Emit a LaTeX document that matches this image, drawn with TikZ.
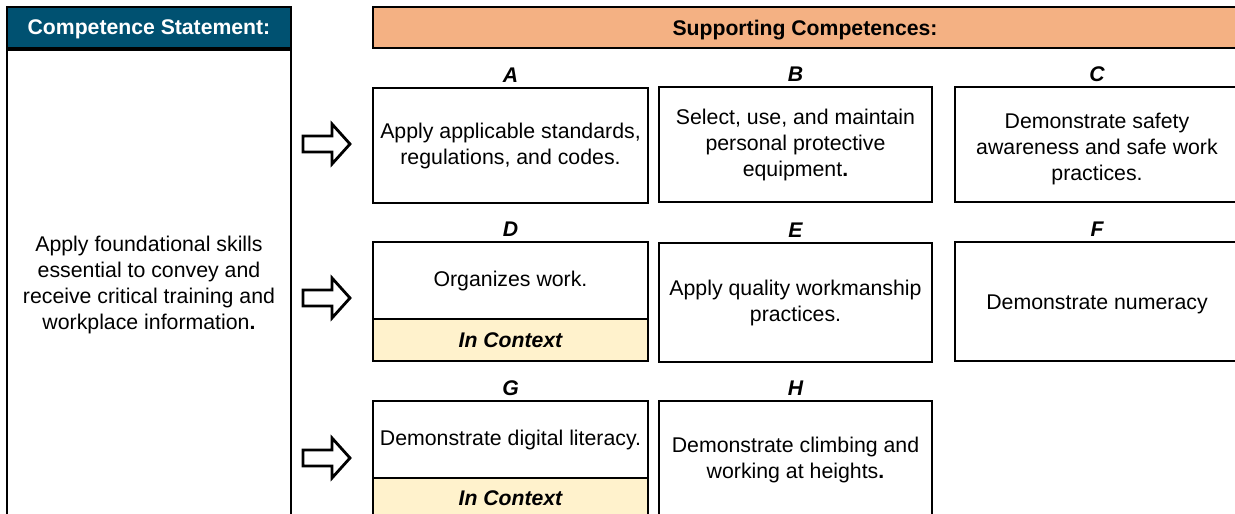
\documentclass[tikz,border=0pt]{standalone}
\usepackage{fontspec}
\setmainfont{Liberation Sans}
\usetikzlibrary{positioning}

\definecolor{statefill}{HTML}{005171}
\definecolor{suppfill}{HTML}{F4B183}
\definecolor{ctxfill}{HTML}{FFF2CC}

\begin{document}
\begin{tikzpicture}[
    x=1pt, y=-1pt,
    font=\fontsize{21.3}{26}\selectfont,
    box/.style={draw, line width=2.3pt, inner sep=0pt, outer sep=0pt, align=center},
    head/.style={box, fill=#1, minimum height=41pt, font=\fontsize{21.2}{24}\selectfont\bfseries},
    comp/.style={box, fill=white},
    ctx/.style={box, fill=ctxfill, font=\fontsize{21.2}{24}\selectfont\bfseries\itshape},
    letter/.style={inner sep=0pt, font=\fontsize{21.2}{24}\selectfont\bfseries\itshape},
    blockarr/.style={draw, line width=2.8pt, fill=white, line join=miter}
]

\useasboundingbox (0,0) rectangle (1235,514);
\fill[white] (0,0) rectangle (1235,514);
\clip (0,0) rectangle (1235,514);

% Competence statement
\node[head=statefill, text=white, minimum width=284pt, text depth=0pt] (stmthead) at (149,27.5) {Competence Statement:};
\node[comp, minimum width=284pt, minimum height=470pt] (stmt) at (149,285)
    {Apply foundational skills\\ essential to convey and\\ receive critical training and\\ workplace information\textbf{.}};

% Supporting competences
\node[head=suppfill, minimum width=864pt, text depth=0pt] (supphead) at (805,27.5) {Supporting Competences:};

% Row 1
\node[comp, minimum width=275pt, minimum height=115pt] (A) at (510.5,145.5)
    {Apply applicable standards,\\ regulations, and codes.};
\node[comp, minimum width=273pt, minimum height=115pt] (B) at (795.5,144.5)
    {Select, use, and maintain\\ personal protective\\ equipment\textbf{.}};
\node[comp, minimum width=284pt, minimum height=115pt] (C) at (1097,144.5)
    {\rule{0pt}{24pt}Demonstrate safety\\ awareness and safe work\\ practices.};

% Row 2
\node[comp, minimum width=275pt, minimum height=77pt] (D) at (510.5,280.5) {\rule{0pt}{17pt}Organizes work.};
\node[ctx, minimum width=275pt, minimum height=42pt] (Dctx) at (510.5,340) {In Context};
\node[comp, minimum width=273pt, minimum height=119pt] (E) at (795.5,302.5)
    {Apply quality workmanship\\ practices.};
\node[comp, minimum width=284pt, minimum height=119pt] (F) at (1097,301.5) {\rule{0pt}{20pt}Demonstrate numeracy};

% Row 3
\node[comp, minimum width=275pt, minimum height=77pt] (G) at (510.5,439.5) {Demonstrate digital literacy.};
\node[ctx, minimum width=275pt, minimum height=40pt] (Gctx) at (510.5,498) {In Context};
\node[comp, minimum width=273pt, minimum height=117pt] (H) at (795.5,459.5)
    {Demonstrate climbing and\\ working at heights\textbf{.}};

% Letters
\foreach \n in {A,B,C,D,E,F,G,H}
    \node[letter, above=5pt of \n.north, anchor=south] (lbl\n) {\n};

% Block arrows
\foreach \ay in {144,298,458}
    \draw[blockarr] (303,\ay-8) -- (332,\ay-8) -- (332,\ay-20) -- (350,\ay)
        -- (332,\ay+20) -- (332,\ay+8) -- (303,\ay+8) -- cycle;

\end{tikzpicture}
\end{document}
